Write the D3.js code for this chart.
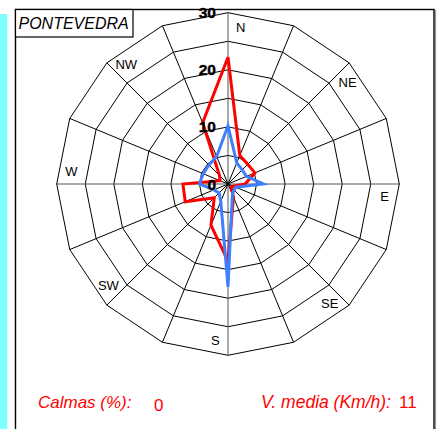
<!DOCTYPE html>
<html>
<head>
<meta charset="utf-8">
<script src="https://cdn.jsdelivr.net/npm/d3@7"></script>
<style>
  html, body { margin: 0; padding: 0; background: #fff; }
  svg { display: block; font-family: "Liberation Sans", Arial, sans-serif; }
</style>
</head>
<body>
<svg id="chart" width="437" height="429"></svg>
<script>
// ---- data ----
const title = "PONTEVEDRA";
const directions = ["N","NNE","NE","ENE","E","ESE","SE","SSE","S","SSW","SW","WSW","W","WNW","NW","NNW"];
const labelledDirections = ["N","NE","E","SE","S","SW","W","NW"];
const frecuencia = [22.2, 5.4, 4.9, 5.1, 3.0, 1.0, 0.8, 2.5, 13.5, 7.8, 3.4, 8.1, 7.9, 1.5, 2.1, 11.6];
const velocidad  = [10.2, 4.0, 3.5, 3.5, 6.2, 1.5, 1.5, 2.0, 18.0, 3.3, 2.2, 2.7, 5.0, 4.7, 4.7, 5.2];
const ringValues = [5, 10, 15, 20, 25, 30];
const tickLabels = [0, 10, 20, 30];
const calmas = "0";
const vmedia = "11";

// ---- layout ----
const svg = d3.select("#chart");
const cx = 228, cy = 184, R = 171.3;

const r = d3.scaleLinear().domain([0, 30]).range([0, R]);
const step = 2 * Math.PI / directions.length;
const angleOf = d => directions.indexOf(d) * step;
const px = (a, rad) => cx + rad * Math.sin(a);
const py = (a, rad) => cy - rad * Math.cos(a);

// left cyan strip
svg.append("rect").attr("x", 0).attr("y", 14).attr("width", 7.3).attr("height", 429 - 14).attr("fill", "#80ffff");

// frame
svg.append("line").attr("x1", 435.5).attr("x2", 435.5).attr("y1", 10).attr("y2", 429).attr("stroke", "#999").attr("stroke-width", 1.2);
svg.append("rect").attr("x", 15.5).attr("y", 9.5).attr("width", 418.5).attr("height", 440)
  .attr("fill", "none").attr("stroke", "#000").attr("stroke-width", 1.4);

const g = svg.append("g");

// rings (16-gon)
ringValues.forEach(v => {
  const pts = directions.map(d => [px(angleOf(d), r(v)), py(angleOf(d), r(v))]);
  g.append("polygon").attr("points", pts.map(p => p.join(",")).join(" "))
    .attr("fill", "none").attr("stroke", "#000").attr("stroke-width", 1);
});

// spokes
directions.forEach((d, i) => {
  const a = angleOf(d);
  g.append("line")
    .attr("x1", cx).attr("y1", cy)
    .attr("x2", px(a, R)).attr("y2", py(a, R))
    .attr("stroke", i % 4 === 0 ? "#555" : "#000").attr("stroke-width", 1);
});

// series
const line = d3.lineRadial()
  .angle((v, i) => angleOf(directions[i]))
  .radius(v => r(v))
  .curve(d3.curveLinearClosed);

g.append("path").datum(frecuencia)
  .attr("transform", `translate(${cx},${cy})`)
  .attr("d", line).attr("fill", "none").attr("stroke", "#ff0000")
  .attr("stroke-width", 3).attr("stroke-linejoin", "miter");

g.append("path").datum(velocidad)
  .attr("transform", `translate(${cx},${cy})`)
  .attr("d", line).attr("fill", "none").attr("stroke", "#3f7fff")
  .attr("stroke-width", 3).attr("stroke-linejoin", "miter");

// direction labels
const labOffset = 4.6 * Math.PI / 180;
labelledDirections.forEach(d => {
  const a = angleOf(d) + labOffset;
  g.append("text").attr("x", px(a, 157)).attr("y", py(a, 157))
    .attr("text-anchor", "middle").attr("dominant-baseline", "central")
    .attr("font-size", 13).attr("fill", "#000").text(d);
});

// tick labels
tickLabels.forEach(v => {
  g.append("text").attr("x", cx - 12).attr("y", cy - r(v))
    .attr("text-anchor", "end").attr("dominant-baseline", "central")
    .attr("font-size", 15.5).attr("font-weight", "bold").attr("fill", "#000")
    .attr("stroke", "#000").attr("stroke-width", 0.4).text(v);
});

// title box
svg.append("rect").attr("x", 15.5).attr("y", 9.5).attr("width", 117.5).attr("height", 27.5)
  .attr("fill", "#fff").attr("stroke", "#000").attr("stroke-width", 1.2);
svg.append("text").attr("x", 18.5).attr("y", 29.3).attr("font-size", 16)
  .attr("font-style", "italic").attr("fill", "#000").text(title);

// bottom texts
svg.append("text").attr("x", 38).attr("y", 407.5).attr("font-size", 17)
  .attr("font-style", "italic").attr("fill", "#ff0000").text("Calmas (%):");
svg.append("text").attr("x", 154).attr("y", 411).attr("font-size", 17)
  .attr("fill", "#ff0000").text(calmas);
svg.append("text").attr("x", 261).attr("y", 407.5).attr("font-size", 17.5)
  .attr("font-style", "italic").attr("fill", "#ff0000").text("V. media (Km/h):");
svg.append("text").attr("x", 399).attr("y", 407.5).attr("font-size", 17)
  .attr("fill", "#ff0000").text(vmedia);
</script>
</body>
</html>
